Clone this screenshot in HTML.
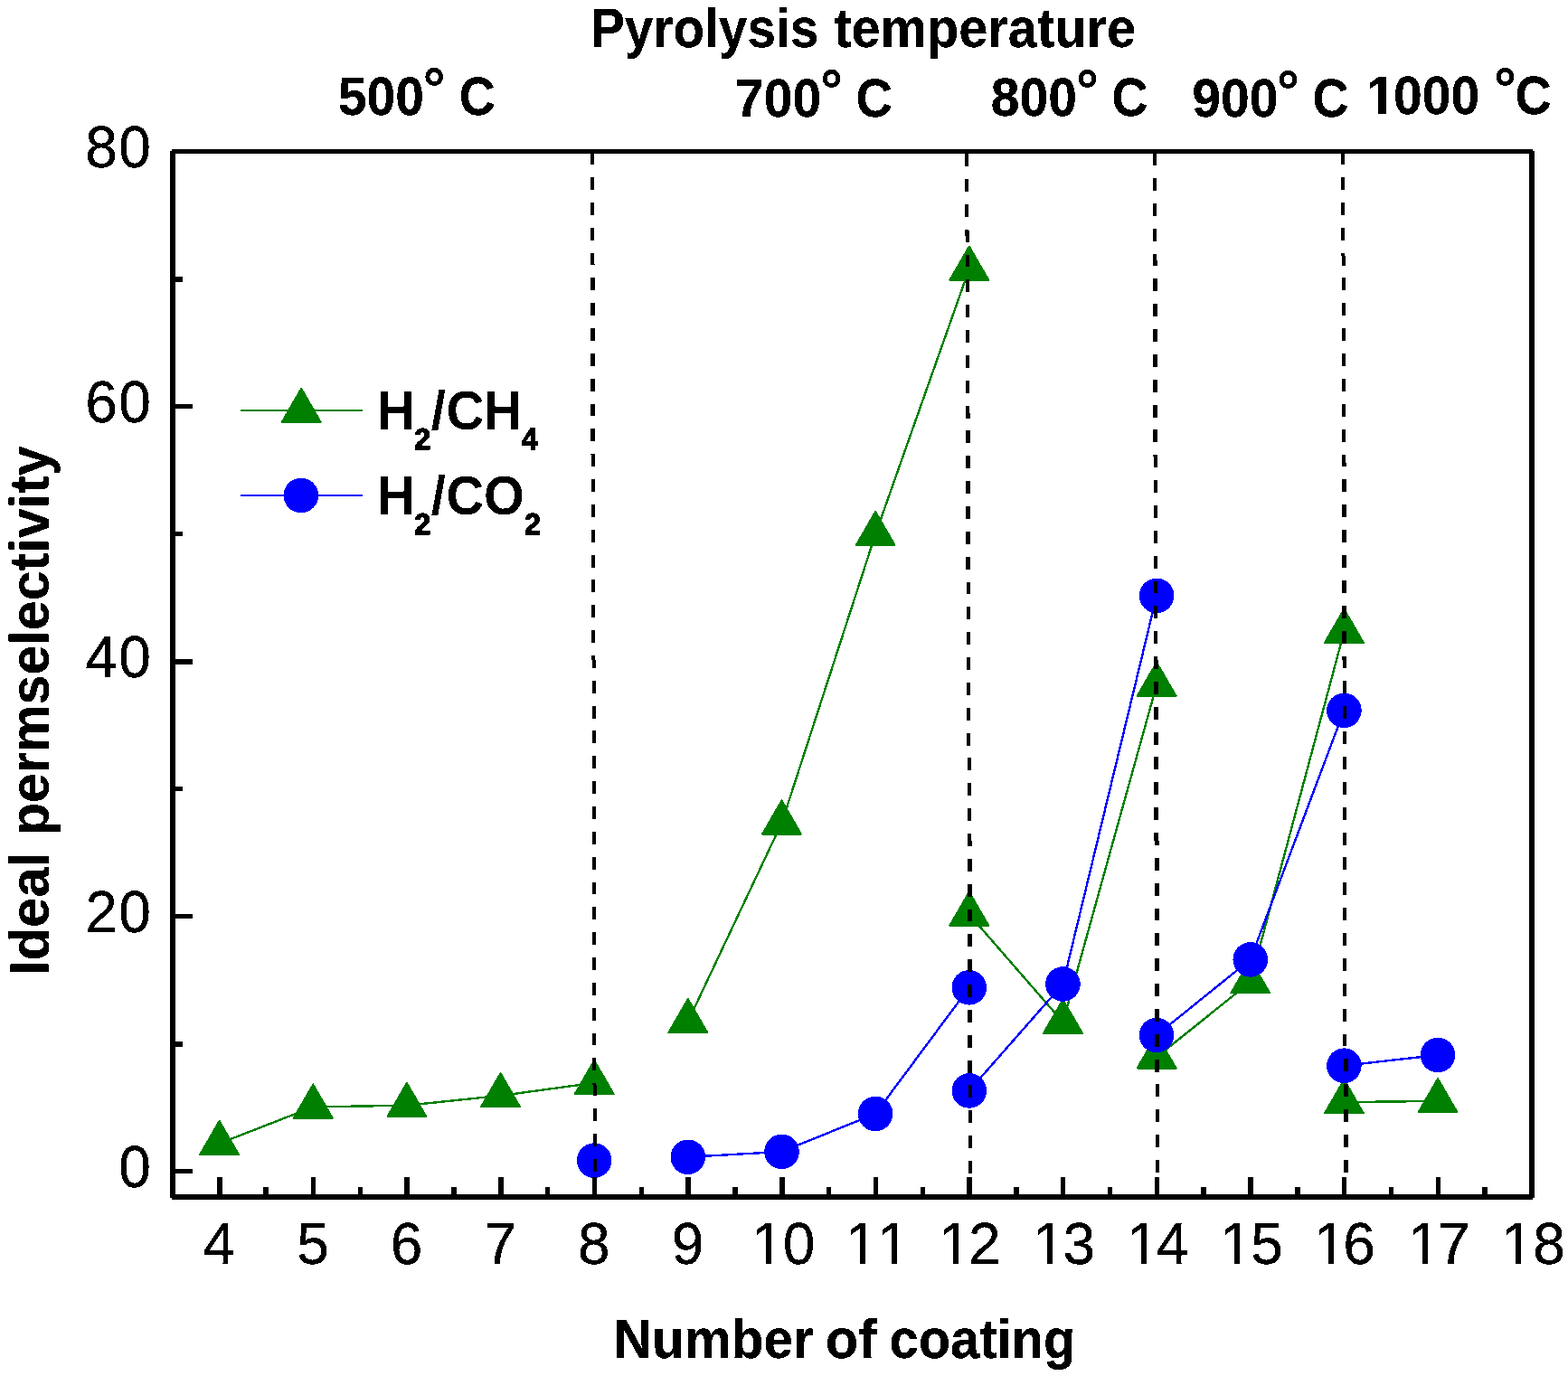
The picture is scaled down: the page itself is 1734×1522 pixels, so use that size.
<!DOCTYPE html>
<html lang="en"><head><meta charset="utf-8"><title>Ideal permselectivity vs number of coating</title>
<style>
html,body{margin:0;padding:0;background:#fff;}
body{width:1734px;height:1522px;overflow:hidden;}
svg{display:block;}
text{font-family:"Liberation Sans",Arial,Helvetica,sans-serif;fill:#000;font-kerning:none;white-space:pre;}
.b{font-weight:bold;}
</style></head><body>
<svg xmlns="http://www.w3.org/2000/svg" width="1734" height="1522" viewBox="0 0 1734 1522">
<defs><filter id="bw" filterUnits="userSpaceOnUse" x="0" y="0" width="1734" height="1522" color-interpolation-filters="sRGB"><feComponentTransfer><feFuncA type="discrete" tableValues="0 1"/></feComponentTransfer></filter></defs>
<rect x="0" y="0" width="1734" height="1522" fill="#fff"/>
<g id="series-h2-ch4" shape-rendering="crispEdges" fill="#008000" stroke="#008000" stroke-width="2" stroke-linejoin="round">
<polyline points="242.6,1264.8 346.25,1224.4 449.9,1222.7 553.55,1211.9 657.2,1197.8" fill="none" stroke="#008000" stroke-width="2.4"/>
<polyline points="760.85,1129.8 864.5,910.3 968.15,590.8 1071.8,297.4" fill="none" stroke="#008000" stroke-width="2.4"/>
<polyline points="1071.8,1011.4 1175.45,1130.5 1279.1,757.5" fill="none" stroke="#008000" stroke-width="2.4"/>
<polyline points="1279.1,1169.2 1382.75,1086.1 1486.4,698.6" fill="none" stroke="#008000" stroke-width="2.4"/>
<polyline points="1486.4,1219.1 1590.05,1217.9" fill="none" stroke="#008000" stroke-width="2.4"/>
<polygon points="221.13,1277.1 264.07,1277.1 242.6,1239.9"/>
<polygon points="324.78,1236.7 367.72,1236.7 346.25,1199.5"/>
<polygon points="428.43,1235 471.37,1235 449.9,1197.8"/>
<polygon points="532.08,1224.2 575.02,1224.2 553.55,1187"/>
<polygon points="635.73,1210.1 678.67,1210.1 657.2,1172.9"/>
<polygon points="739.38,1142.1 782.32,1142.1 760.85,1104.9"/>
<polygon points="843.03,922.6 885.97,922.6 864.5,885.4"/>
<polygon points="946.68,603.1 989.62,603.1 968.15,565.9"/>
<polygon points="1050.33,309.7 1093.27,309.7 1071.8,272.5"/>
<polygon points="1050.33,1023.7 1093.27,1023.7 1071.8,986.5"/>
<polygon points="1153.98,1142.8 1196.92,1142.8 1175.45,1105.6"/>
<polygon points="1257.63,769.8 1300.57,769.8 1279.1,732.6"/>
<polygon points="1257.63,1181.5 1300.57,1181.5 1279.1,1144.3"/>
<polygon points="1361.28,1098.4 1404.22,1098.4 1382.75,1061.2"/>
<polygon points="1464.93,710.9 1507.87,710.9 1486.4,673.7"/>
<polygon points="1464.93,1231.4 1507.87,1231.4 1486.4,1194.2"/>
<polygon points="1568.58,1230.2 1611.52,1230.2 1590.05,1193"/>
</g>
<g id="series-h2-co2" shape-rendering="crispEdges">
<polyline points="760.85,1279.8 864.5,1273.9 968.15,1231.9 1071.8,1092.3" fill="none" stroke="#0000ff" stroke-width="2.4"/>
<polyline points="1071.8,1206.4 1175.45,1088.5 1279.1,658.9" fill="none" stroke="#0000ff" stroke-width="2.4"/>
<polyline points="1279.1,1145 1382.75,1061.4 1486.4,785.8" fill="none" stroke="#0000ff" stroke-width="2.4"/>
<polyline points="1486.4,1178.7 1590.05,1167" fill="none" stroke="#0000ff" stroke-width="2.4"/>
<circle cx="657.2" cy="1283.6" r="19.3" fill="#0000ff"/>
<circle cx="760.85" cy="1279.8" r="19.3" fill="#0000ff"/>
<circle cx="864.5" cy="1273.9" r="19.3" fill="#0000ff"/>
<circle cx="968.15" cy="1231.9" r="19.3" fill="#0000ff"/>
<circle cx="1071.8" cy="1092.3" r="19.3" fill="#0000ff"/>
<circle cx="1071.8" cy="1206.4" r="19.3" fill="#0000ff"/>
<circle cx="1175.45" cy="1088.5" r="19.3" fill="#0000ff"/>
<circle cx="1279.1" cy="658.9" r="19.3" fill="#0000ff"/>
<circle cx="1279.1" cy="1145" r="19.3" fill="#0000ff"/>
<circle cx="1382.75" cy="1061.4" r="19.3" fill="#0000ff"/>
<circle cx="1486.4" cy="785.8" r="19.3" fill="#0000ff"/>
<circle cx="1486.4" cy="1178.7" r="19.3" fill="#0000ff"/>
<circle cx="1590.05" cy="1167" r="19.3" fill="#0000ff"/>
</g>
<g id="separators" shape-rendering="crispEdges" fill="#000">
<path d="M653 170h4v12h-4zM653 196h4v14h-4zM653 224h4v14h-4zM653 252h4v14h-4zM653 280h4v12h-4zM653 292h5v1h-5zM653 307h5v14h-5zM653 335h5v14h-5zM653 363h5v14h-5zM653 391h5v14h-5zM653 419h5v14h-5zM653 447h5v13h-5zM653 474h5v14h-5zM653 502h5v1h-5zM654 503h4v13h-4zM654 530h4v14h-4zM654 558h4v14h-4zM654 586h4v14h-4zM654 614h4v14h-4zM654 641h4v14h-4zM654 669h4v14h-4zM654 697h4v14h-4zM654 725h4v5h-4zM655 730h4v9h-4zM655 753h4v14h-4zM655 781h4v14h-4zM655 808h4v14h-4zM655 836h4v14h-4zM655 864h4v14h-4zM655 892h4v14h-4zM655 920h4v14h-4zM655 948h4v14h-4zM655 976h4v13h-4zM655 1003h4v14h-4zM655 1031h4v14h-4zM655 1059h4v14h-4zM655 1087h4v14h-4zM655 1115h4v14h-4zM655 1143h4v13h-4zM655 1170h4v14h-4zM655 1198h4v2h-4zM656 1200h4v12h-4zM656 1226h4v14h-4zM656 1254h4v14h-4zM656 1282h4v14h-4z"/>
<path d="M1067 170h4v14h-4zM1067 198h4v14h-4zM1067 226h4v14h-4zM1067 254h4v1h-4zM1067 255h5v6h-5zM1068 261h4v7h-4zM1068 282h4v13h-4zM1068 309h4v14h-4zM1068 337h4v14h-4zM1068 365h4v14h-4zM1068 393h4v14h-4zM1068 421h4v14h-4zM1068 449h4v8h-4zM1068 457h5v6h-5zM1068 476h5v14h-5zM1068 504h5v14h-5zM1068 532h5v14h-5zM1068 560h5v14h-5zM1068 588h5v14h-5zM1068 616h5v14h-5zM1069 644h4v13h-4zM1069 671h4v14h-4zM1069 699h4v14h-4zM1069 727h4v14h-4zM1069 755h4v14h-4zM1069 783h4v14h-4zM1069 811h4v14h-4zM1070 838h4v14h-4zM1070 866h4v14h-4zM1070 894h4v14h-4zM1070 922h4v8h-4zM1070 930h5v6h-5zM1070 950h5v14h-5zM1070 978h5v14h-5zM1070 1006h5v13h-5zM1070 1033h5v14h-5zM1070 1061h5v14h-5zM1070 1089h5v14h-5zM1070 1117h5v14h-5zM1070 1145h5v14h-5zM1070 1173h5v14h-5zM1071 1200h4v14h-4zM1071 1228h4v14h-4zM1071 1256h4v14h-4zM1071 1284h4v14h-4z"/>
<path d="M1275 170h4v13h-4zM1275 197h4v14h-4zM1275 225h4v14h-4zM1275 253h4v14h-4zM1275 281h4v7h-4zM1275 288h5v6h-5zM1275 308h5v14h-5zM1275 336h5v14h-5zM1275 364h5v14h-5zM1275 392h5v14h-5zM1275 420h5v14h-5zM1275 448h5v14h-5zM1275 475h5v14h-5zM1275 503h5v2h-5zM1276 505h4v12h-4zM1276 531h4v14h-4zM1276 559h4v14h-4zM1276 587h4v14h-4zM1276 615h4v14h-4zM1276 643h4v13h-4zM1276 670h4v14h-4zM1276 698h4v14h-4zM1276 726h4v4h-4zM1276 730h5v10h-5zM1276 754h5v14h-5zM1276 782h5v14h-5zM1276 810h5v14h-5zM1276 837h5v14h-5zM1276 865h5v14h-5zM1276 893h5v14h-5zM1276 921h5v9h-5zM1277 930h5v5h-5zM1277 949h5v14h-5zM1277 977h5v14h-5zM1277 1005h5v13h-5zM1277 1032h5v14h-5zM1277 1060h5v14h-5zM1277 1088h5v14h-5zM1277 1116h5v14h-5zM1277 1144h5v14h-5zM1277 1172h5v14h-5zM1278 1199h4v14h-4zM1278 1227h4v14h-4zM1278 1255h4v14h-4zM1278 1283h4v14h-4z"/>
<path d="M1483 170h4v12h-4zM1483 196h4v14h-4zM1483 224h4v14h-4zM1483 252h4v14h-4zM1483 280h4v3h-4zM1484 283h4v11h-4zM1484 307h4v14h-4zM1484 335h4v14h-4zM1484 363h4v14h-4zM1484 391h4v14h-4zM1484 419h4v14h-4zM1484 447h4v14h-4zM1484 475h4v14h-4zM1484 503h4v9h-4zM1484 512h5v4h-5zM1484 530h5v14h-5zM1484 558h5v14h-5zM1484 586h5v14h-5zM1484 614h5v14h-5zM1484 642h5v14h-5zM1484 670h5v14h-5zM1484 698h5v14h-5zM1484 726h5v4h-5zM1485 730h4v9h-4zM1485 753h4v14h-4zM1485 781h4v14h-4zM1485 809h4v14h-4zM1485 837h4v14h-4zM1485 865h4v14h-4zM1485 893h4v14h-4zM1485 921h4v14h-4zM1485 948h4v14h-4zM1485 976h4v14h-4zM1485 1004h4v14h-4zM1485 1032h4v14h-4zM1485 1060h4v14h-4zM1485 1088h4v14h-4zM1485 1116h4v14h-4zM1485 1144h4v13h-4zM1486 1171h5v14h-5zM1486 1199h5v14h-5zM1486 1227h5v14h-5zM1486 1255h5v14h-5zM1486 1283h5v14h-5z"/>
</g>
<g id="axes" shape-rendering="crispEdges" fill="#000">
<path d="M190 165H1695V167H1697V1325H1695V1327H190V1325H188V167H190ZM194 170V1321H1691V170Z" fill-rule="evenodd"/>
<path d="M240 1302h6v19h-6zM291 1313h6v8h-6zM344 1302h5v19h-5zM396 1313h5v8h-5zM447 1302h6v19h-6zM499 1313h6v8h-6zM551 1302h6v19h-6zM603 1313h5v8h-5zM655 1302h5v19h-5zM707 1313h5v8h-5zM758 1302h6v19h-6zM810 1313h6v8h-6zM862 1302h6v19h-6zM914 1313h5v8h-5zM966 1302h5v19h-5zM1018 1313h5v8h-5zM1069 1302h6v19h-6zM1121 1313h6v8h-6zM1173 1302h5v19h-5zM1225 1313h5v8h-5zM1277 1302h5v19h-5zM1328 1313h6v8h-6zM1380 1302h6v19h-6zM1432 1313h6v8h-6zM1484 1302h5v19h-5zM1536 1313h5v8h-5zM1588 1302h5v19h-5zM1639 1313h6v8h-6z"/>
<path d="M194 1293h19v5h-19zM194 1152h8v6h-8zM194 1011h19v5h-19zM194 870h8v5h-8zM194 729h19v6h-19zM194 588h8v5h-8zM194 447h19v5h-19zM194 306h8v6h-8z"/>
</g>
<g id="labels" filter="url(#bw)">
<g id="xticklabels" font-size="64" text-anchor="middle" stroke="#000" stroke-width="0.3">
<text x="242.3" y="1398.2">4</text>
<text x="345.95" y="1398.2">5</text>
<text x="449.6" y="1398.2">6</text>
<text x="553.25" y="1398.2">7</text>
<text x="656.9" y="1398.2">8</text>
<text x="760.55" y="1398.2">9</text>
<text x="831.05 865.85" y="1398.2" text-anchor="start">10</text>
<text x="935.05 970.05" y="1398.2" text-anchor="start">11</text>
<text x="1038.05 1070.9" y="1398.2" text-anchor="start">12</text>
<text x="1142.05 1175.55" y="1398.2" text-anchor="start">13</text>
<text x="1246.05 1278.65" y="1398.2" text-anchor="start">14</text>
<text x="1349.05 1383.35" y="1398.2" text-anchor="start">15</text>
<text x="1453.05 1485.2" y="1398.2" text-anchor="start">16</text>
<text x="1557.05 1589.9" y="1398.2" text-anchor="start">17</text>
<text x="1660.05 1695.2" y="1398.2" text-anchor="start">18</text>
</g>
<g id="yticklabels" font-size="64" text-anchor="end" letter-spacing="1.4" stroke="#000" stroke-width="0.3">
<text x="168.3" y="1312.9">0</text>
<text x="168.3" y="1030.9">20</text>
<text x="168.3" y="748.9">40</text>
<text x="168.3" y="466.9">60</text>
<text x="168.3" y="184.9">80</text>
</g>
<g id="titles" class="b" font-size="58" stroke="#000" stroke-width="0.25">
<text transform="translate(0,1501.9) scale(1,1.04)"><tspan x="678.77" textLength="220.95" lengthAdjust="spacingAndGlyphs">Number</tspan><tspan x="896.23" textLength="73.17" lengthAdjust="spacingAndGlyphs"> of</tspan><tspan x="967.47" textLength="221.8" lengthAdjust="spacingAndGlyphs"> coating</tspan></text>
<text transform="translate(53.6,0) rotate(-90) scale(1,1.055)"><tspan x="-1079.13" textLength="136.54" lengthAdjust="spacingAndGlyphs">Ideal</tspan><tspan x="-940.46" textLength="447.01" lengthAdjust="spacingAndGlyphs"> permselectivity</tspan></text>
<text transform="translate(0,51.6) scale(1,1.04)"><tspan x="652.88" textLength="252.51" lengthAdjust="spacingAndGlyphs">Pyrolysis</tspan><tspan x="906.09" textLength="350.09" lengthAdjust="spacingAndGlyphs"> temperature</tspan></text>
</g>
<g id="temperatures" class="b" font-size="58" stroke="#000" stroke-width="0.25">
<text transform="translate(0,127.3) scale(0.985,1.03)"><tspan x="379.46">500</tspan><tspan x="474.95" dy="-7.15" font-size="63">°</tspan><tspan x="499.94" dy="7.15" textLength="56.17" lengthAdjust="spacingAndGlyphs"> C</tspan></text>
<text transform="translate(0,129.1) scale(0.985,1.03)"><tspan x="825.45">700</tspan><tspan x="920.94" dy="-6.96" font-size="63">°</tspan><tspan x="945.02" dy="6.96" textLength="56.79" lengthAdjust="spacingAndGlyphs"> C</tspan></text>
<text transform="translate(0,128.3) scale(0.985,1.03)"><tspan x="1112.45">800</tspan><tspan x="1208.05" dy="-6.18" font-size="63">°</tspan><tspan x="1232.73" dy="6.18" textLength="56.17" lengthAdjust="spacingAndGlyphs"> C</tspan></text>
<text transform="translate(0,129.1) scale(0.985,1.03)"><tspan x="1338.34">900</tspan><tspan x="1433.53" dy="-6.18" font-size="63">°</tspan><tspan x="1458.01" dy="6.18" textLength="56.17" lengthAdjust="spacingAndGlyphs"> C</tspan></text>
<text transform="translate(0,126.3) scale(0.985,1.03)"><tspan x="1534.21 1564.43">1000 </tspan><tspan x="1677.08" dy="-6.18" font-size="63">°</tspan><tspan x="1700.92" dy="6.18" textLength="40.78" lengthAdjust="spacingAndGlyphs">C</tspan></text>
</g>
</g>
<g id="legend-symbols" shape-rendering="crispEdges">
<rect x="266" y="453" width="135" height="2" fill="#008000"/>
<polygon points="311.73,466.9 354.67,466.9 333.2,429.7" fill="#008000" stroke="#008000" stroke-width="2" stroke-linejoin="round"/>
<rect x="266" y="547" width="135" height="2" fill="#0000ff"/>
<circle cx="332.9" cy="548" r="19.3" fill="#0000ff"/>
</g>
<g id="legend-labels" class="b" font-size="58" filter="url(#bw)">
<text transform="translate(0,475.05) scale(1,1.05)"><tspan x="417">H</tspan><tspan x="458.15" dy="21.24" font-size="32.5" stroke="#000" stroke-width="1.2">2</tspan><tspan x="476.82" dy="-21.24">/</tspan><tspan x="493.4" textLength="83.83" lengthAdjust="spacingAndGlyphs">CH</tspan><tspan x="576.8" dy="21.24" font-size="32.5" stroke="#000" stroke-width="1.2">4</tspan></text>
<text transform="translate(0,569) scale(1,1.05)"><tspan x="417">H</tspan><tspan x="458.15" dy="20.71" font-size="32.5" stroke="#000" stroke-width="1.2">2</tspan><tspan x="476.82" dy="-20.71">/</tspan><tspan x="493.42" textLength="86.47" lengthAdjust="spacingAndGlyphs">CO</tspan><tspan x="579.95" dy="20.71" font-size="32.5" stroke="#000" stroke-width="1.2">2</tspan></text>
</g>
<g id="serif-trim" fill="#fff" shape-rendering="crispEdges"><rect x="835" y="1393" width="12" height="6"/><rect x="853" y="1393" width="12" height="6"/><rect x="939" y="1393" width="12" height="6"/><rect x="957" y="1393" width="12" height="6"/><rect x="1042" y="1393" width="12" height="6"/><rect x="1060" y="1393" width="12" height="6"/><rect x="1146" y="1393" width="12" height="6"/><rect x="1164" y="1393" width="12" height="6"/><rect x="1250" y="1393" width="12" height="6"/><rect x="1268" y="1393" width="12" height="6"/><rect x="1353" y="1393" width="12" height="6"/><rect x="1371" y="1393" width="12" height="6"/><rect x="1457" y="1393" width="12" height="6"/><rect x="1475" y="1393" width="12" height="6"/><rect x="1561" y="1393" width="12" height="6"/><rect x="1579" y="1393" width="12" height="6"/><rect x="1664" y="1393" width="12" height="6"/><rect x="1682" y="1393" width="12" height="6"/><rect x="974" y="1393" width="12" height="6"/><rect x="992" y="1393" width="12" height="6"/><rect x="1514" y="120" width="10" height="7"/><rect x="1533" y="120" width="9" height="7"/></g>
</svg>
</body></html>
